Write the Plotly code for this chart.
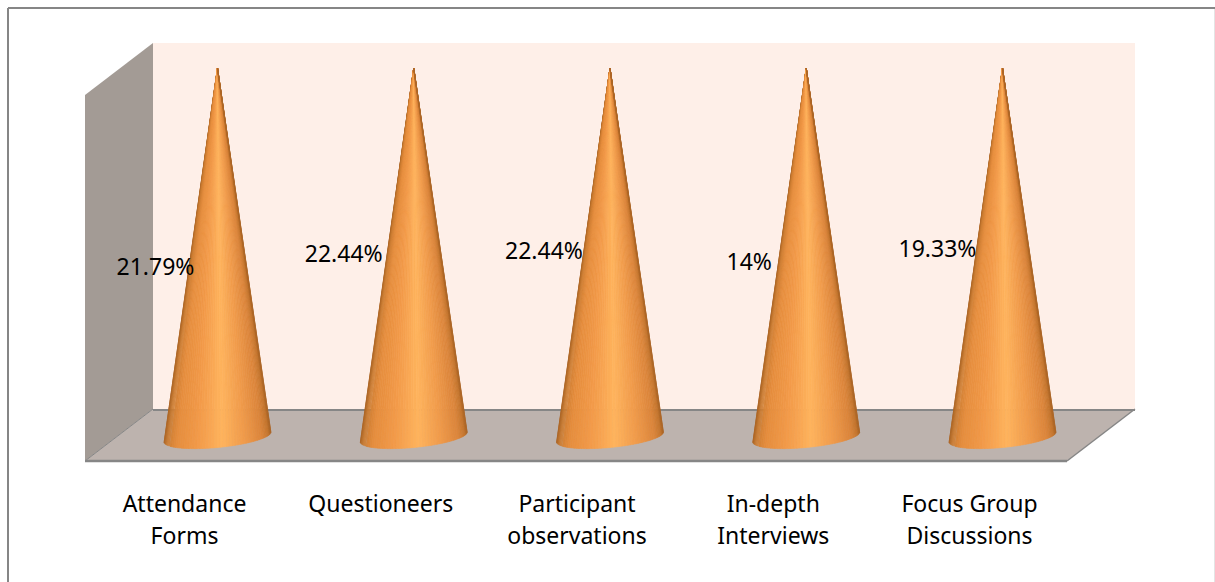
import numpy as np
import plotly.graph_objects as go

# ---- data ----
first_line = ["Attendance", "Questioneers", "Participant", "In-depth", "Focus Group"]
second_line = ["Forms", "", "observations", "Interviews", "Discussions"]
shares = [21.79, 22.44, 22.44, 14, 19.33]
share_text = ["21.79%", "22.44%", "22.44%", "14%", "19.33%"]
cone_height = [100, 100, 100, 100, 100]   # every cone fills the 100% scale

# ---- layout constants ----
W, H = 1215, 582
PLOT_BOTTOM = 488
PX_PER_CAT = 196.25
PX_PER_VAL = 3.69
FIRST_CX, BASE_PX = 217.5, 437
FONT = "Noto Sans"
FONT_SIZE = 23

label_dx_px = [-62, -70, -66, -57, -65]
label_y_px = [269, 256, 253, 264, 251]

stops = [(0.0, (172, 102, 38)), (0.03, (205, 125, 50)), (0.12, (230, 142, 62)),
         (0.32, (243, 155, 74)), (0.55, (255, 180, 94)), (0.76, (240, 155, 75)),
         (0.92, (220, 134, 60)), (0.98, (196, 118, 46)), (1.0, (172, 102, 38))]


def shade(u):
    xs = [s[0] for s in stops]
    return "rgb(%d,%d,%d)" % tuple(np.interp(u, xs, [s[1][k] for s in stops]) for k in range(3))


def px(x):
    return x / W


def py(y):
    return (PLOT_BOTTOM - y) / PLOT_BOTTOM


def path(points):
    return "M " + " L ".join(f"{px(a):.5f},{py(b):.5f}" for a, b in points) + " Z"


fig = go.Figure()

# cones, as a fan of strips from apex to base ellipse
a = 53.5 / PX_PER_CAT
b = 10.5 / PX_PER_VAL
tilt = 5 / PX_PER_VAL
N = 56
ts = np.linspace(0, np.pi, N + 1)
for i in range(N):
    xs, ys = [], []
    for c, h in enumerate(cone_height):
        seg = np.linspace(ts[i], ts[i + 1], 3)
        off = -np.cos(seg)
        xs += [c] + list(c + a * off) + [c, None]
        ys += [h] + list(tilt * off - b * np.sin(seg)) + [h, None]
    u = (1 - np.cos((ts[i] + ts[i + 1]) / 2)) / 2
    col = shade(u)
    fig.add_trace(go.Scatter(x=xs, y=ys, mode="lines", fill="toself", fillcolor=col,
                             line=dict(color=col, width=0.7), hoverinfo="skip",
                             showlegend=False))

# value labels
fig.add_trace(go.Scatter(
    x=[i + d / PX_PER_CAT for i, d in enumerate(label_dx_px)],
    y=[(BASE_PX - y) / PX_PER_VAL for y in label_y_px],
    mode="text", text=share_text, textposition="middle center",
    textfont=dict(family=FONT, size=FONT_SIZE, color="#000000"),
    customdata=shares, showlegend=False, hoverinfo="skip"))

# second axis carries the second row of the category labels
tick_pos = [i - 33 / PX_PER_CAT for i in range(5)]
fig.add_trace(go.Scatter(x=tick_pos, y=[0] * 5, xaxis="x2", mode="markers",
                         marker=dict(opacity=0), showlegend=False, hoverinfo="skip"))

xr = [-FIRST_CX / PX_PER_CAT, (W - FIRST_CX) / PX_PER_CAT]
yr = [(BASE_PX - PLOT_BOTTOM) / PX_PER_VAL, BASE_PX / PX_PER_VAL]
tickfont = dict(family=FONT, size=FONT_SIZE, color="#000000")

shapes = [
    dict(type="path", path=path([(153, 43), (1135, 43), (1135, 409), (153, 409)]),
         fillcolor="#feefe8", line_width=0, layer="below"),
    dict(type="path", path=path([(85, 95), (153, 43), (153, 409), (85, 461)]),
         fillcolor="#a39b95", line_width=0, layer="below"),
    dict(type="path", path=path([(153, 409), (1135, 409), (1067, 461), (85, 461)]),
         fillcolor="#bdb3ae", line_width=0, layer="below"),
]
for (x0, y0, x1, y1, w) in [(153, 410, 1135, 410, 2), (85, 461, 1067, 461, 2.5),
                            (85, 461, 153, 409, 1), (1067, 461, 1135, 409, 1.5),
                            (8, 8, 1215, 8, 2), (8, 8, 8, 582, 2)]:
    shapes.append(dict(type="line", xref="paper", yref="paper", x0=px(x0), y0=py(y0),
                       x1=px(x1), y1=py(y1), line=dict(color="#868686", width=w), layer="below"))
shapes.append(dict(type="line", xref="paper", yref="paper", x0=px(1214.5), y0=py(9),
                   x1=px(1214.5), y1=py(582), line=dict(color="#e4e4e4", width=1), layer="below"))
for s in shapes:
    s.setdefault("xref", "paper")
    s.setdefault("yref", "paper")

fig.update_layout(
    width=W, height=H, margin=dict(l=0, r=0, t=0, b=H - PLOT_BOTTOM, pad=0),
    paper_bgcolor="#ffffff", plot_bgcolor="rgba(0,0,0,0)", showlegend=False, shapes=shapes,
    xaxis=dict(range=xr, tickmode="array", tickvals=tick_pos, ticktext=first_line, ticks="",
               showgrid=False, zeroline=False, showline=False, tickfont=tickfont,
               ticklabelstandoff=0, anchor="y", automargin=False),
    xaxis2=dict(range=xr, tickmode="array", tickvals=tick_pos, ticktext=second_line, ticks="",
                showgrid=False, zeroline=False, showline=False, tickfont=tickfont,
                ticklabelstandoff=32, anchor="y", overlaying="x", side="bottom", automargin=False),
    yaxis=dict(range=yr, visible=False, showgrid=False, zeroline=False),
)

fig.write_html("out.html", config={"displayModeBar": False},
               post_script="document.body.style.margin='0';")
